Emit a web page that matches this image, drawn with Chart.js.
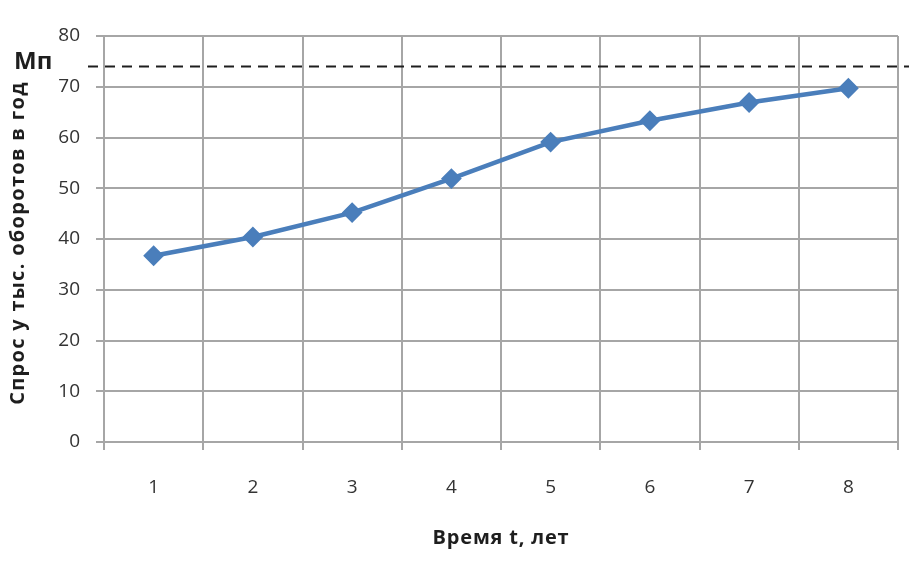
<!DOCTYPE html>
<html><head><meta charset="utf-8">
<script src="https://cdn.jsdelivr.net/npm/chart.js@4/dist/chart.umd.min.js"></script>
<style>html,body{margin:0;padding:0;background:#fff;}</style>
</head><body>
<canvas id="c" width="914" height="573"></canvas>
<script>
const categories = ['1', '2', '3', '4', '5', '6', '7', '8'];
const demand = [36.7, 40.4, 45.2, 51.9, 59.1, 63.3, 66.9, 69.7];
const yTickValues = [0, 10, 20, 30, 40, 50, 60, 70, 80];
const limitValue = [74];
const limitLabel = 'Мп';
const xTitle = 'Время t, лет';
const yTitle = 'Спрос у тыс. оборотов в год';

const FONT = '"Open Sans"';
const gridColor = '#a6a6a6';
const titleColor = '#1e1e1e';

const refLinePlugin = {
  id: 'refLine',
  afterDatasetsDraw(chart) {
    const {ctx, chartArea, scales} = chart;
    const py = Math.round(scales.y.getPixelForValue(limitValue[0])) + 0.5;
    ctx.save();
    ctx.strokeStyle = titleColor;
    ctx.lineWidth = 1.8;
    ctx.setLineDash([10, 7]);
    ctx.beginPath();
    ctx.moveTo(chartArea.left - 16, py);
    ctx.lineTo(chartArea.right + 11, py);
    ctx.stroke();
    ctx.setLineDash([]);
    ctx.font = 'bold 24px ' + FONT;
    ctx.fillStyle = titleColor;
    ctx.textAlign = 'left';
    ctx.textBaseline = 'alphabetic';
    ctx.fillText(limitLabel, 14, py + 2);
    ctx.restore();
  }
};

const axisTitlePlugin = {
  id: 'axisTitles',
  afterDraw(chart) {
    const {ctx, chartArea, scales} = chart;
    ctx.save();
    ctx.fillStyle = titleColor;
    ctx.textAlign = 'center';
    ctx.textBaseline = 'middle';
    ctx.font = 'bold 20px ' + FONT;
    ctx.letterSpacing = '0.8px';
    const cx = (chartArea.left + chartArea.right) / 2;
    ctx.fillText(xTitle, cx, scales.x.bottom - 35);
    ctx.letterSpacing = '1.3px';
    ctx.translate(scales.y.left + 18, (chartArea.top + chartArea.bottom) / 2 + 4);
    ctx.rotate(-Math.PI / 2);
    ctx.fillText(yTitle, 0, 0);
    ctx.restore();
  }
};

new Chart(document.getElementById('c'), {
  type: 'line',
  data: {
    labels: categories,
    datasets: [{
      data: demand,
      borderColor: '#4a7ebb',
      backgroundColor: '#4a7ebb',
      borderWidth: 4.5,
      pointStyle: 'rectRot',
      pointRadius: 9,
      pointBorderWidth: 2,
      pointBorderColor: '#4a7ebb',
      pointBackgroundColor: '#4a7ebb',
      tension: 0,
      fill: false
    }]
  },
  options: {
    responsive: false,
    animation: false,
    devicePixelRatio: 1,
    layout: {padding: {left: 0, right: 16, top: 36, bottom: 0}},
    plugins: {legend: {display: false}, tooltip: {enabled: false}},
    scales: {
      x: {
        type: 'category',
        offset: true,
        grid: {offset: true, color: gridColor, lineWidth: 2, tickLength: 8, drawTicks: true},
        border: {display: true, color: gridColor, width: 2},
        ticks: {color: '#333333', font: {family: FONT, size: 19}, padding: 26, maxRotation: 0},
        title: {display: false},
        afterFit(scale) { scale.height = 131; }
      },
      y: {
        min: 0, max: 80,
        afterBuildTicks(scale) { scale.ticks = yTickValues.map(v => ({value: v})); },
        grid: {color: gridColor, lineWidth: 2, tickLength: 8, drawTicks: true},
        border: {display: true, color: gridColor, width: 2},
        ticks: {color: '#333333', font: {family: FONT, size: 19}, padding: 16},
        title: {display: false},
        afterFit(scale) { scale.width = 104; }
      }
    }
  },
  plugins: [refLinePlugin, axisTitlePlugin]
});
</script>
</body></html>
